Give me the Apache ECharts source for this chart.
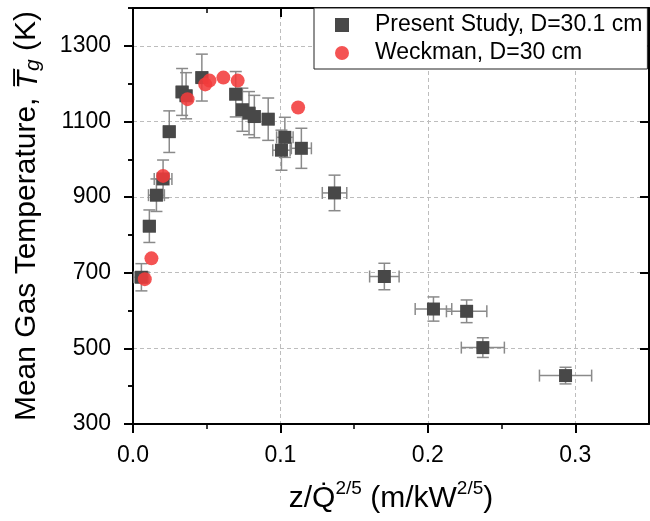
<!DOCTYPE html>
<html>
<head>
<meta charset="utf-8">
<script src="https://cdn.jsdelivr.net/npm/echarts@6/dist/echarts.min.js"></script>
<style>
  html, body { margin: 0; padding: 0; background: #fff; }
  #chart { width: 650px; height: 521px; }
</style>
</head>
<body>
<div id="chart"></div>
<script>
// Present study, D = 30.1 cm: z/Q^(2/5), mean gas temperature (K) and uncertainties
const presentX    = [0.0057, 0.0111, 0.0159, 0.0204, 0.0246, 0.0333, 0.0360, 0.0467, 0.0697, 0.0742, 0.0787,
                     0.0823, 0.0917, 0.1007, 0.1030, 0.1142, 0.1367, 0.1705, 0.2038, 0.2263, 0.2373, 0.2934];
const presentT    = [688, 823, 905, 948, 1073, 1178, 1168, 1216, 1172, 1131, 1122,
                     1113, 1106, 1024, 1058, 1029, 911, 690, 604, 598, 502, 428];
const presentErrT = [36, 43, 43, 50, 55, 62, 61, 62, 60, 57, 57,
                     56, 56, 53, 53, 53, 47, 35, 32, 30, 26, 22];
const presentErrX = [0.0050, 0.0040, 0.0054, 0.0060, 0.0040, 0.0040, 0.0040, 0.0040, 0.0040, 0.0040, 0.0040,
                     0.0040, 0.0040, 0.0059, 0.0056, 0.0068, 0.0083, 0.0100, 0.0124, 0.0137, 0.0146, 0.0177];

// Weckman, D = 30 cm
const weckmanX = [0.0080, 0.0125, 0.0204, 0.0370, 0.0490, 0.0519, 0.0613, 0.0710, 0.1120];
const weckmanT = [683, 738, 956, 1159, 1198, 1208, 1216, 1208, 1137];

// Axis ticks
const xMajorTicks = [0, 0.1, 0.2, 0.3];
const xMinorTicks = [0.05, 0.15, 0.25];
const yMajorTicks = [300, 500, 700, 900, 1100, 1300];
const yMinorTicks = [400, 600, 800, 1000, 1200, 1400];

const seriesNames = ['Present Study, D=30.1 cm', 'Weckman, D=30 cm'];

const FONT = '"Liberation Sans", Arial, sans-serif';
const X_MIN = 0, X_MAX = 0.35, Y_MIN = 300, Y_MAX = 1400;

const presentData = presentX.map((x, i) => [x, presentT[i]]);
const errorData = presentX.map((x, i) => [x, presentT[i], presentErrT[i], presentErrX[i]]);
const weckmanData = weckmanX.map((x, i) => [x, weckmanT[i]]);

const axisLineStyle = { color: '#000', width: 2 };

// Extra axes that only draw the frame and the tick marks
function frameAxis(kind, extra) {
  const base = kind === 'x'
    ? { type: 'value', min: X_MIN, max: X_MAX, interval: 0.05 }
    : { type: 'value', min: Y_MIN, max: Y_MAX, interval: 100 };
  return Object.assign(base, {
    axisLine: { show: false, lineStyle: axisLineStyle },
    axisLabel: { show: false },
    splitLine: { show: false }
  }, extra);
}

const chart = echarts.init(document.getElementById('chart'), null, { renderer: 'canvas' });

chart.setOption({
  animation: false,
  backgroundColor: '#fff',
  textStyle: { fontFamily: FONT },
  grid: { left: 133, right: 1, top: 8, bottom: 97, containLabel: false, outerBoundsMode: 'none' },
  xAxis: [
    {
      type: 'value', min: X_MIN, max: X_MAX, interval: 0.1,
      position: 'bottom',
      axisLine: { show: true, onZero: false, lineStyle: axisLineStyle },
      axisTick: { show: true, inside: false, length: 9, customValues: xMajorTicks, lineStyle: { color: '#000', width: 2 } },
      axisLabel: { show: true, customValues: xMajorTicks, formatter: v => v.toFixed(1),
                   color: '#000', fontSize: 23, fontFamily: FONT, margin: 20 },
      splitLine: { show: true, lineStyle: { color: '#bdbdbd', width: 1, type: [4, 3] } },
      name: '{a|z/Q\u0307}{s|2/5}{a| (m/kW}{s|2/5}{a|)}',
      nameLocation: 'middle',
      nameGap: 55,
      nameTextStyle: {
        color: '#000', fontFamily: FONT, fontSize: 30,
        rich: {
          a: { fontSize: 30, fontFamily: FONT, color: '#000', lineHeight: 35, verticalAlign: 'bottom' },
          s: { fontSize: 19, fontFamily: FONT, color: '#000', lineHeight: 19, verticalAlign: 'top' }
        }
      }
    },
    frameAxis('x', { position: 'bottom', axisTick: { show: true, length: 5, customValues: xMinorTicks, lineStyle: { color: '#000', width: 1.5 } } }),
    frameAxis('x', { position: 'top', axisLine: { show: true, onZero: false, lineStyle: axisLineStyle },
                     axisTick: { show: true, inside: true, length: 9, customValues: xMajorTicks, lineStyle: { color: '#000', width: 2 } } }),
    frameAxis('x', { position: 'top', axisTick: { show: true, inside: true, length: 5, customValues: xMinorTicks, lineStyle: { color: '#000', width: 1.5 } } })
  ],
  yAxis: [
    {
      type: 'value', min: Y_MIN, max: Y_MAX, interval: 200,
      position: 'left',
      axisLine: { show: true, onZero: false, lineStyle: axisLineStyle },
      axisTick: { show: true, inside: false, length: 9, customValues: yMajorTicks, lineStyle: { color: '#000', width: 2 } },
      axisLabel: { show: true, customValues: yMajorTicks, formatter: v => String(v),
                   color: '#000', fontSize: 23, fontFamily: FONT, margin: 22 },
      splitLine: { show: true, lineStyle: { color: '#bdbdbd', width: 1, type: [4, 3] } },
      name: 'Mean Gas Temperature, {t|T\u0305}{g|g} (K)',
      nameLocation: 'middle',
      nameGap: 89,
      nameRotate: 90,
      nameTextStyle: {
        color: '#000', fontFamily: FONT, fontSize: 30,
        rich: {
          t: { fontSize: 30, fontFamily: FONT, fontStyle: 'italic', color: '#000', lineHeight: 35, verticalAlign: 'bottom' },
          g: { fontSize: 21, fontFamily: FONT, fontStyle: 'italic', color: '#000', lineHeight: 27, verticalAlign: 'bottom' }
        }
      }
    },
    frameAxis('y', { position: 'left', axisTick: { show: true, length: 5, customValues: yMinorTicks, lineStyle: { color: '#000', width: 1.5 } } }),
    frameAxis('y', { position: 'right', axisLine: { show: true, onZero: false, lineStyle: axisLineStyle },
                     axisTick: { show: true, inside: true, length: 9, customValues: yMajorTicks, lineStyle: { color: '#000', width: 2 } } }),
    frameAxis('y', { position: 'right', axisTick: { show: true, inside: true, length: 5, customValues: yMinorTicks, lineStyle: { color: '#000', width: 1.5 } } })
  ],
  legend: {
    left: 314, top: 8,
    orient: 'vertical',
    backgroundColor: '#fff',
    borderColor: '#222',
    borderWidth: 1,
    borderRadius: 0,
    padding: [3, 5, 2, 21],
    itemGap: 0,
    itemWidth: 14,
    itemHeight: 14,
    textStyle: { color: '#000', fontSize: 23, fontFamily: FONT, lineHeight: 28, padding: [0, 0, 0, 21] },
    data: [
      { name: seriesNames[0], icon: 'rect' },
      { name: seriesNames[1], icon: 'circle' }
    ]
  },
  series: [
    {
      name: 'errors',
      type: 'custom',
      z: 1,
      xAxisIndex: 0, yAxisIndex: 0,
      data: errorData,
      encode: { x: 0, y: 1 },
      renderItem: function (params, api) {
        const x = api.value(0), y = api.value(1), ey = api.value(2), ex = api.value(3);
        const top = api.coord([x, y + ey]);
        const bot = api.coord([x, y - ey]);
        const lft = api.coord([x - ex, y]);
        const rgt = api.coord([x + ex, y]);
        const cap = 6;
        const style = { stroke: '#8a8a8a', lineWidth: 1.5 };
        const line = (x1, y1, x2, y2) => ({ type: 'line', shape: { x1, y1, x2, y2 }, style });
        return {
          type: 'group',
          children: [
            line(top[0], top[1], bot[0], bot[1]),
            line(top[0] - cap, top[1], top[0] + cap, top[1]),
            line(bot[0] - cap, bot[1], bot[0] + cap, bot[1]),
            line(lft[0], lft[1], rgt[0], rgt[1]),
            line(lft[0], lft[1] - cap, lft[0], lft[1] + cap),
            line(rgt[0], rgt[1] - cap, rgt[0], rgt[1] + cap)
          ]
        };
      }
    },
    {
      name: seriesNames[0],
      type: 'scatter',
      z: 2,
      xAxisIndex: 0, yAxisIndex: 0,
      symbol: 'rect',
      symbolSize: 13,
      itemStyle: { color: '#484848', opacity: 1 },
      data: presentData
    },
    {
      name: seriesNames[1],
      type: 'scatter',
      z: 3,
      xAxisIndex: 0, yAxisIndex: 0,
      symbol: 'circle',
      symbolSize: 14,
      itemStyle: { color: '#f23b3b', opacity: 0.88 },
      data: weckmanData
    }
  ]
});
</script>
</body>
</html>
